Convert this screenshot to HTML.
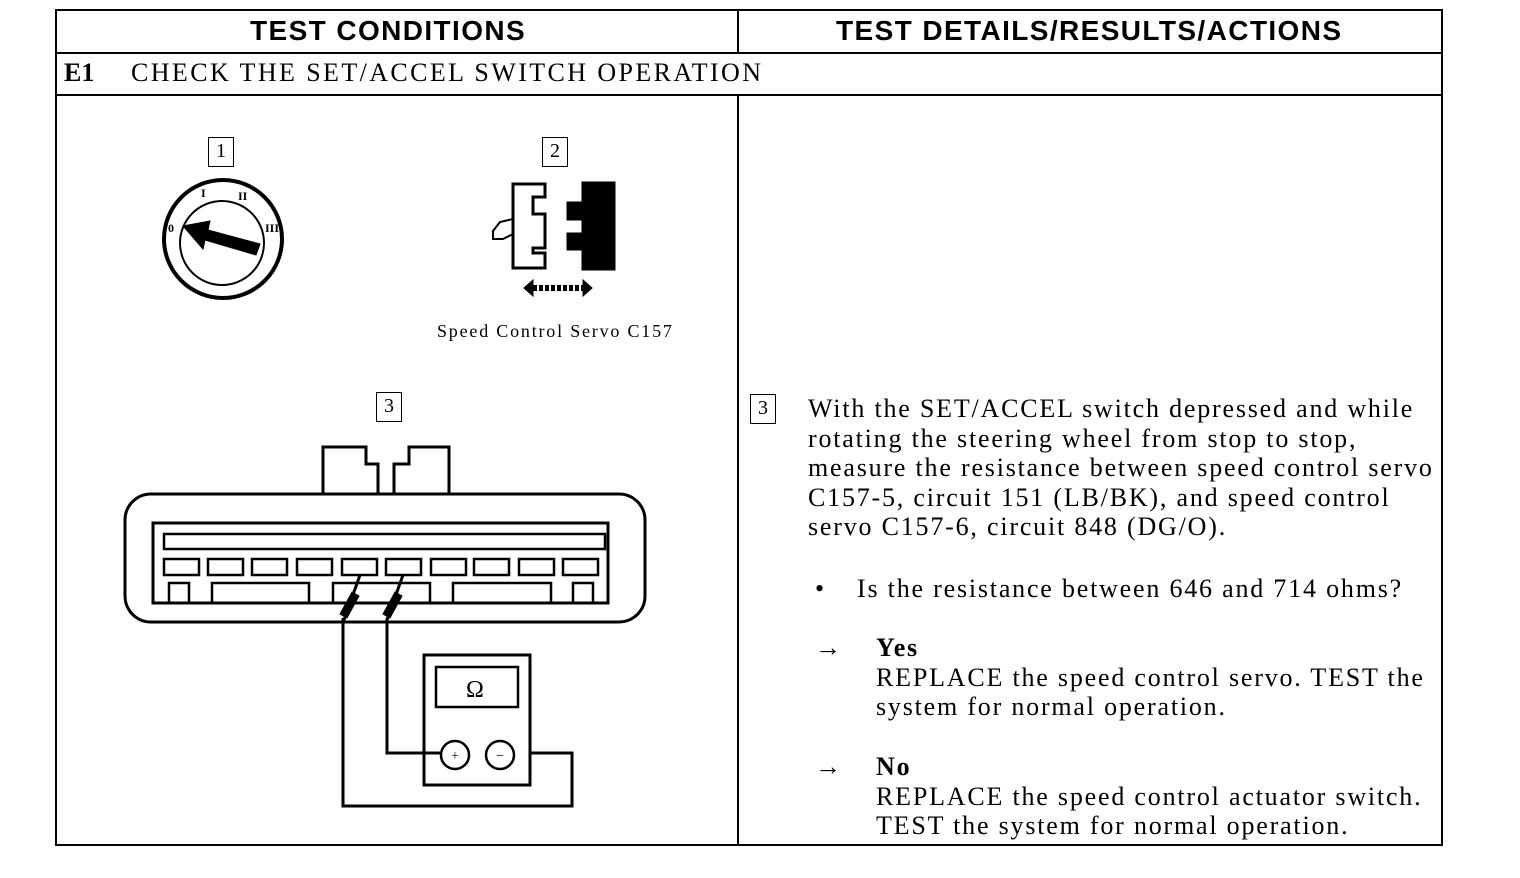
<!DOCTYPE html>
<html><head><style>
body{margin:0;background:#fff;width:1520px;height:878px;overflow:hidden;position:relative;font-family:"Liberation Serif",serif;color:#000}
.t{position:absolute;white-space:nowrap}
.h{font-family:"Liberation Sans",sans-serif;font-weight:bold;font-size:28px;letter-spacing:1.4px}
.r{font-size:26px;line-height:29.5px;letter-spacing:1.8px}
.box{position:absolute;border:1.5px solid #000;font-size:20px;text-align:center;line-height:26px;width:24px;height:28px}
</style></head><body>
<svg width="1520" height="878" style="position:absolute;left:0;top:0" fill="none" stroke="#000">
<rect x="56" y="10" width="1386" height="835" stroke-width="2"/>
<line x1="56" y1="53" x2="1442" y2="53" stroke-width="2"/>
<line x1="56" y1="95" x2="1442" y2="95" stroke-width="2"/>
<line x1="738" y1="10" x2="738" y2="53" stroke-width="2"/>
<line x1="738" y1="95" x2="738" y2="845" stroke-width="2"/>
<circle cx="223" cy="239" r="59" stroke-width="4"/>
<circle cx="222" cy="243" r="42" stroke-width="2"/>
<polygon points="260,244 256,255 205,240 203,249 183,226 210,221 208,230" fill="#000"/>
<text x="168" y="232" font-size="12" fill="#000" stroke="none" font-weight="bold">0</text>
<text x="201" y="197" font-size="12" fill="#000" stroke="none" font-weight="bold">I</text>
<text x="238" y="200" font-size="12" fill="#000" stroke="none" font-weight="bold">II</text>
<text x="265" y="232" font-size="12" fill="#000" stroke="none" font-weight="bold">III</text>
<path d="M513,184 H545 V197 H533 V214 H545 V248 H533 V253 H545 V268 H513 Z" stroke-width="3"/>
<path d="M513,219 L500,222 L493,231 V239 H503 L513,234" stroke-width="2"/>
<path d="M582,182 H615 V270 H582 V250 H567 V233 H582 V220 H567 V202 H582 Z" fill="#000"/>
<polygon points="524,288 533,280 533,296" fill="#000"/>
<polygon points="592,288 583,280 583,296" fill="#000"/>
<path d="M533,288 H583" stroke-width="6" stroke-dasharray="4,2"/>
<path d="M323,494 V447 H366 V464 H378 V494 M394,494 V464 H409 V447 H449 V494" stroke-width="3"/>
<rect x="125" y="494" width="520" height="128" rx="26" stroke-width="3"/>
<rect x="153" y="523" width="455" height="80" stroke-width="3"/>
<rect x="164" y="534" width="441" height="15" stroke-width="2.5"/>
<g stroke-width="2.5">
<rect x="164" y="559" width="35" height="16"/><rect x="208" y="559" width="35" height="16"/><rect x="252" y="559" width="35" height="16"/><rect x="297" y="559" width="35" height="16"/><rect x="342" y="559" width="35" height="16"/><rect x="386" y="559" width="35" height="16"/><rect x="431" y="559" width="35" height="16"/><rect x="474" y="559" width="35" height="16"/><rect x="519" y="559" width="35" height="16"/><rect x="563" y="559" width="35" height="16"/>
<path d="M169,603 V583 H189 V603 M212,603 V583 H309 V603 M333,603 V583 H430 V603 M453,603 V583 H551 V603 M573,603 V583 H593 V603"/>
</g>
<path d="M360,575 L344,620 M403,575 L387,620" stroke-width="3"/>
<polygon points="352,592 359,596 347,618 340,614" fill="#000"/>
<polygon points="395,592 402,596 390,618 383,614" fill="#000"/>
<path d="M343,618 V806 H572 V753 H530 M387,618 V753 H441" stroke-width="3"/>
<rect x="424" y="655" width="106" height="130" stroke-width="3"/>
<rect x="436" y="667" width="82" height="40" stroke-width="2.5"/>
<circle cx="455" cy="755" r="14" stroke-width="2.5"/>
<circle cx="500" cy="755" r="14" stroke-width="2.5"/>
<text x="451" y="760" font-size="14" fill="#000" stroke="none">+</text>
<text x="496" y="760" font-size="14" fill="#000" stroke="none">−</text>
<text x="466" y="697" font-size="24" fill="#000" stroke="none" font-family="Liberation Serif">Ω</text>
</svg>
<div class="t h" style="left:250px;top:15px">TEST CONDITIONS</div>
<div class="t h" style="left:836px;top:15px">TEST DETAILS/RESULTS/ACTIONS</div>
<div class="t" style="left:64px;top:58px;font-size:26px;font-weight:bold">E1</div>
<div class="t" style="left:131px;top:58px;font-size:26px;letter-spacing:2.4px">CHECK THE SET/ACCEL SWITCH OPERATION</div>
<div class="box" style="left:208px;top:137px">1</div>
<div class="box" style="left:542px;top:137px">2</div>
<div class="box" style="left:376px;top:392px">3</div>
<div class="box" style="left:750px;top:394px">3</div>
<div class="t" style="left:437px;top:321px;font-size:18px;letter-spacing:1.8px">Speed Control Servo C157</div>
<div class="t r" style="left:808px;top:394px">With the SET/ACCEL switch depressed and while<br>rotating the steering wheel from stop to stop,<br>measure the resistance between speed control servo<br>C157-5, circuit 151 (LB/BK), and speed control<br>servo C157-6, circuit 848 (DG/O).</div>
<div class="t r" style="left:815px;top:574px">•</div>
<div class="t r" style="left:857px;top:574px">Is the resistance between 646 and 714 ohms?</div>
<div class="t r" style="left:815px;top:633px">→</div>
<div class="t r" style="left:876px;top:633px"><b>Yes</b><br>REPLACE the speed control servo. TEST the<br>system for normal operation.</div>
<div class="t r" style="left:815px;top:752px">→</div>
<div class="t r" style="left:876px;top:752px"><b>No</b><br>REPLACE the speed control actuator switch.<br>TEST the system for normal operation.</div>
</body></html>
